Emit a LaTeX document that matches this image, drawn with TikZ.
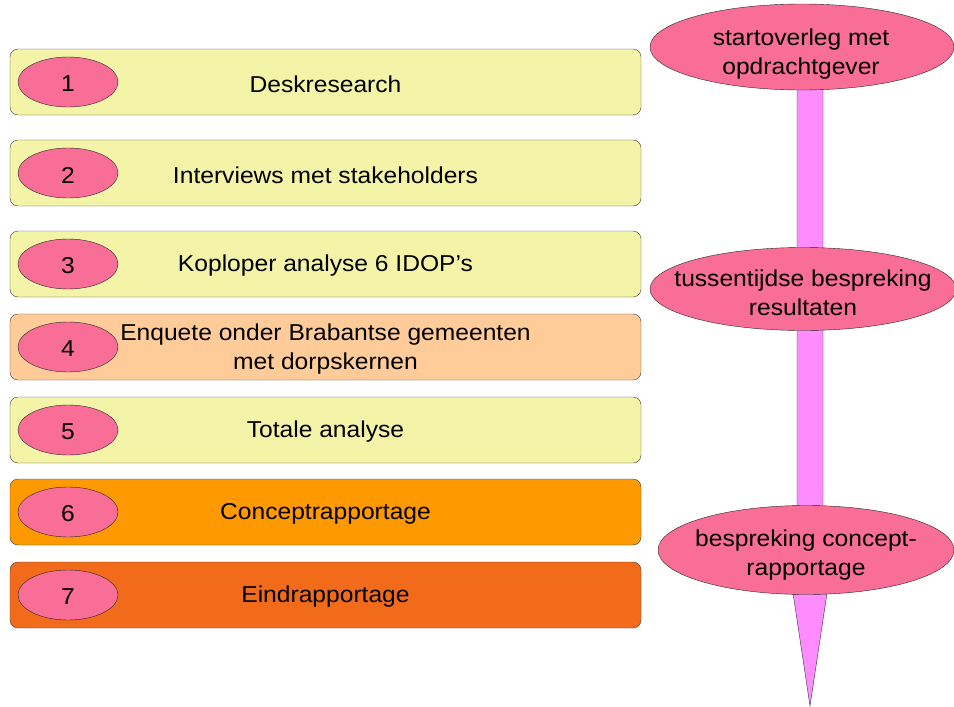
\documentclass[tikz,border=0pt]{standalone}
\usepackage{fontspec}
\setmainfont[FakeStretch=1.07]{Liberation Sans}
\usetikzlibrary{shapes.geometric}

\definecolor{boxyellow}{HTML}{F4F4A8}
\definecolor{boxpeach}{HTML}{FFCC99}
\definecolor{boxorange}{HTML}{FF9900}
\definecolor{boxdark}{HTML}{F16B1B}
\definecolor{nrpink}{HTML}{F96E96}
\definecolor{barviolet}{HTML}{FF8CFF}

\tikzset{
  stepbox/.style={draw=black!75, rounded corners=8pt, minimum width=631pt,
    minimum height=66pt, inner sep=0pt},
  nrblob/.style={ellipse, draw=black!85, fill=nrpink, minimum width=100pt,
    minimum height=50pt, inner sep=0pt},
  meetblob/.style={ellipse, draw=black!85, fill=nrpink, inner sep=0pt},
  txt/.style={align=center, yshift=-2pt}
}

\begin{document}
\begin{tikzpicture}[x=1pt, y=-1pt, font=\fontsize{23}{28.5}\selectfont]
  \useasboundingbox (0,0) rectangle (954,707);

  % phases
  \node[stepbox, fill=boxyellow] (box1) at (325.5,82) {};
  \node[stepbox, fill=boxyellow] (box2) at (325.5,173) {};
  \node[stepbox, fill=boxyellow] (box3) at (325.5,264) {};
  \node[stepbox, fill=boxpeach] (box4) at (325.5,347) {};
  \node[stepbox, fill=boxyellow] (box5) at (325.5,430) {};
  \node[stepbox, fill=boxorange] (box6) at (325.5,512) {};
  \node[stepbox, fill=boxdark] (box7) at (325.5,595) {};

  \node[nrblob] (nr1) at (68,82) {};
  \node[nrblob] (nr2) at (68,173) {};
  \node[nrblob] (nr3) at (68,264) {};
  \node[nrblob] (nr4) at (68,347) {};
  \node[nrblob] (nr5) at (68,430) {};
  \node[nrblob] (nr6) at (68,512) {};
  \node[nrblob] (nr7) at (68,595) {};
  \node[txt] (n1) at (nr1) {1};
  \node[txt] (n2) at (nr2) {2};
  \node[txt] (n3) at (nr3) {3};
  \node[txt] (n4) at (nr4) {4};
  \node[txt] (n5) at (nr5) {5};
  \node[txt] (n6) at (nr6) {6};
  \node[txt] (n7) at (nr7) {7};

  \node[txt] (t1) at (box1) {Deskresearch};
  \node[txt] (t2) at (box2) {Interviews met stakeholders};
  \node[txt] (t3) at (box3) {Koploper analyse 6 IDOP’s};
  \node[txt] (t4) at (box4) {Enquete onder Brabantse gemeenten\\met dorpskernen};
  \node[txt] (t5) at (box5) {Totale analyse};
  \node[txt] (t6) at (box6) {Conceptrapportage};
  \node[txt] (t7) at (box7) {Eindrapportage};

  % time line
  \draw[black!80, fill=barviolet] (797,88) -- (797,560) -- (788,560) -- (810,706)
    -- (832,560) -- (823,560) -- (823,88) -- cycle;

  \node[meetblob, minimum width=304pt, minimum height=86pt] (m1) at (802,47) {};
  \node[meetblob, minimum width=306pt, minimum height=83pt] (m2) at (803,289) {};
  \node[meetblob, minimum width=296pt, minimum height=89pt] (m3) at (806,550) {};
  \node[txt] (mt1) at (801,52) {startoverleg met\\opdrachtgever};
  \node[txt] (mt2) at (803,291) {tussentijdse bespreking\\resultaten};
  \node[txt] (mt3) at (806,553) {bespreking concept-\\rapportage};
\end{tikzpicture}
\end{document}
